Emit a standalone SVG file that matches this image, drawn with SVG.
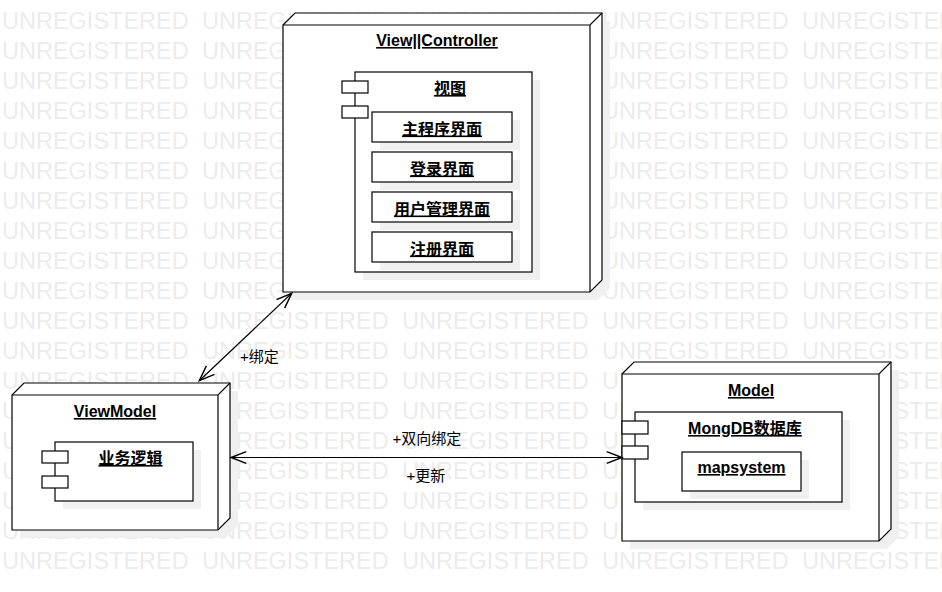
<svg xmlns="http://www.w3.org/2000/svg" width="942" height="592" viewBox="0 0 942 592">
<style>
.wm{font-family:"Liberation Sans","Noto Sans",sans-serif;font-size:23.5px;fill:#ececec}
.n{fill:#fff;stroke:#000;stroke-width:1.2}
.ln{fill:none;stroke:#000;stroke-width:1.2}
.sh{fill:#f0f0f0;stroke:none}
.t{font-family:"Liberation Sans","Noto Sans CJK SC",sans-serif;font-size:16px;font-weight:bold;fill:#000;text-anchor:middle;text-decoration:underline}
.lab{font-family:"Liberation Sans","Noto Sans CJK SC",sans-serif;font-size:15px;fill:#000}
.c{fill:none;stroke:#000;stroke-width:1.2}
</style>
<defs>
<text id="wmrow" class="wm"><tspan x="2">UNREGISTERED</tspan><tspan x="202">UNREGISTERED</tspan><tspan x="402">UNREGISTERED</tspan><tspan x="602">UNREGISTERED</tspan><tspan x="802">UNREGISTERED</tspan></text>
<marker id="arr" markerUnits="userSpaceOnUse" markerWidth="20" markerHeight="20" viewBox="-15 -8 17 16" refX="0" refY="0" orient="auto-start-reverse">
<path d="M-13,-5 L0,0 L-13,5" fill="none" stroke="#000" stroke-width="1.2"/>
</marker>
</defs>
<rect width="942" height="592" fill="#fff"/>
<g id="watermark">
<use href="#wmrow" y="29"/><use href="#wmrow" y="59"/><use href="#wmrow" y="89"/><use href="#wmrow" y="119"/><use href="#wmrow" y="149"/><use href="#wmrow" y="179"/><use href="#wmrow" y="209"/><use href="#wmrow" y="239"/><use href="#wmrow" y="269"/><use href="#wmrow" y="299"/><use href="#wmrow" y="329"/><use href="#wmrow" y="359"/><use href="#wmrow" y="389"/><use href="#wmrow" y="419"/><use href="#wmrow" y="449"/><use href="#wmrow" y="479"/><use href="#wmrow" y="509"/><use href="#wmrow" y="539"/><use href="#wmrow" y="569"/>
</g>

<g id="node-viewcontroller">
<path class="sh" d="M291,33 L303,21 L610,21 L610,288 L598,300 L291,300 Z"/>
<path class="n" d="M283,25 L295,13 L602,13 L602,280 L590,292 L283,292 Z"/>
<path class="ln" d="M283,25 L590,25 L602,13 M590,25 L590,292"/>
<text class="t" x="437" y="46">View||Controller</text>
<g id="comp-view">
<rect class="sh" x="363" y="80" width="177" height="200"/>
<rect class="n" x="355" y="72" width="177" height="200"/>
<rect class="n" x="342" y="81" width="26" height="12"/>
<rect class="n" x="342" y="106" width="26" height="12"/>
<text class="t" x="450" y="94">视图</text>
<rect class="sh" x="380" y="120" width="140" height="30"/>
<rect class="n" x="372" y="112" width="140" height="30"/>
<text class="t" x="442" y="134.5">主程序界面</text>
<rect class="sh" x="380" y="160" width="140" height="30"/>
<rect class="n" x="372" y="152" width="140" height="30"/>
<text class="t" x="442" y="174.5">登录界面</text>
<rect class="sh" x="380" y="200" width="140" height="30"/>
<rect class="n" x="372" y="192" width="140" height="30"/>
<text class="t" x="442" y="214.5">用户管理界面</text>
<rect class="sh" x="380" y="240" width="140" height="30"/>
<rect class="n" x="372" y="232" width="140" height="30"/>
<text class="t" x="442" y="254.5">注册界面</text>
</g>
</g>

<g id="node-viewmodel">
<path class="sh" d="M20,403 L32,391 L238,391 L238,526 L226,538 L20,538 Z"/>
<path class="n" d="M12,395 L24,383 L230,383 L230,518 L218,530 L12,530 Z"/>
<path class="ln" d="M12,395 L218,395 L230,383 M218,395 L218,530"/>
<text class="t" x="115" y="417">ViewModel</text>
<g id="comp-logic">
<rect class="sh" x="63" y="450" width="138" height="59"/>
<rect class="n" x="55" y="442" width="138" height="59"/>
<rect class="n" x="42" y="451" width="26" height="12"/>
<rect class="n" x="42" y="476" width="26" height="12"/>
<text class="t" x="130.5" y="464">业务逻辑</text>
</g>
</g>

<g id="node-model">
<path class="sh" d="M630,382 L642,370 L899,370 L899,537 L887,549 L630,549 Z"/>
<path class="n" d="M622,374 L634,362 L891,362 L891,529 L879,541 L622,541 Z"/>
<path class="ln" d="M622,374 L879,374 L891,362 M879,374 L879,541"/>
<text class="t" x="751" y="396">Model</text>
<g id="comp-mongodb">
<rect class="sh" x="643" y="420" width="207" height="90"/>
<rect class="n" x="635" y="412" width="207" height="90"/>
<rect class="n" x="622" y="421" width="26" height="13"/>
<rect class="n" x="622" y="446" width="26" height="13"/>
<text class="t" x="745" y="434">MongDB数据库</text>
<rect class="sh" x="690" y="460" width="119" height="39"/>
<rect class="n" x="682" y="452" width="119" height="39"/>
<text class="t" x="741.5" y="473">mapsystem</text>
</g>
</g>

<g id="connectors">
<line class="c" x1="291.7" y1="293.3" x2="199.3" y2="380.7" marker-start="url(#arr)" marker-end="url(#arr)"/>
<text class="lab" x="240" y="362">+绑定</text>
<line class="c" x1="231" y1="457.5" x2="622" y2="457.5" marker-start="url(#arr)" marker-end="url(#arr)"/>
<text class="lab" x="427" y="444" text-anchor="middle">+双向绑定</text>
<text class="lab" x="426" y="481" text-anchor="middle">+更新</text>
</g>
</svg>
